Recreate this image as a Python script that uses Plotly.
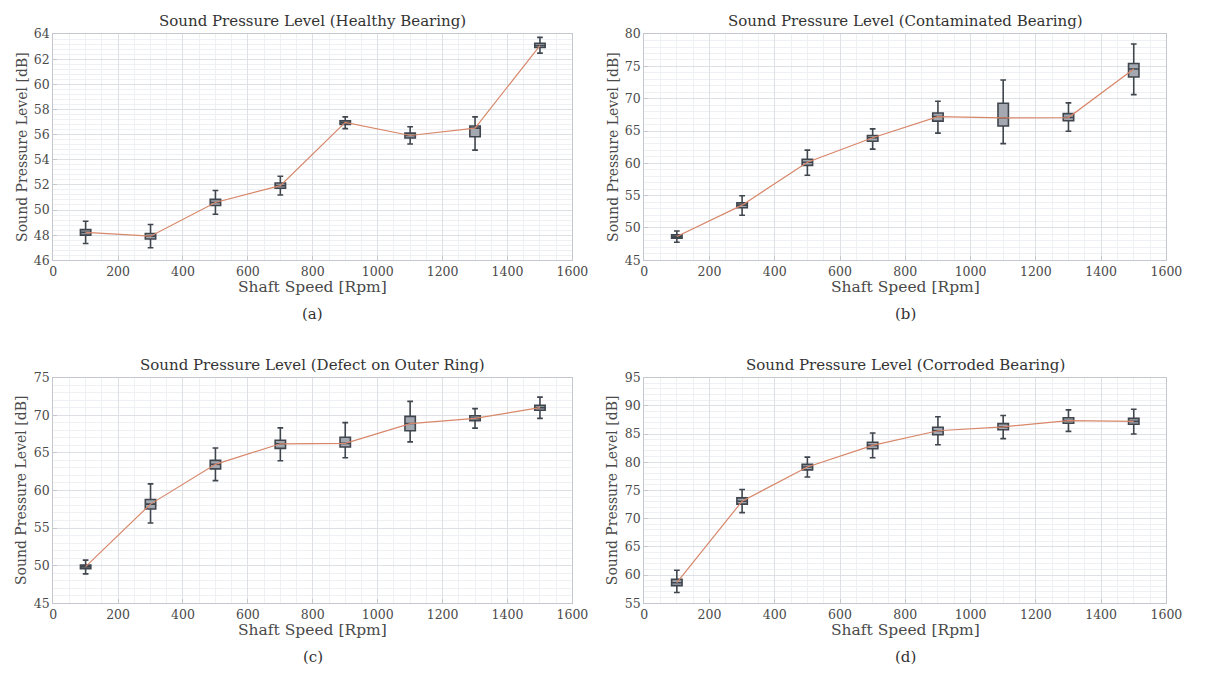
import plotly.graph_objects as go

# Shaft speeds at which the sound pressure was measured [rpm]
speeds = [100, 300, 500, 700, 900, 1100, 1300, 1500]

# Box statistics per condition [dB]: lower whisker, Q1, median, Q3, upper whisker
healthy_lo = [47.33, 47.00, 49.66, 51.19, 56.48, 55.26, 54.77, 62.49]
healthy_q1 = [48.00, 47.69, 50.36, 51.73, 56.82, 55.73, 55.83, 62.93]
healthy_med = [48.22, 47.92, 50.60, 51.94, 56.97, 55.93, 56.52, 63.09]
healthy_q3 = [48.44, 48.13, 50.85, 52.15, 57.10, 56.12, 56.69, 63.27]
healthy_hi = [49.11, 48.85, 51.55, 52.69, 57.41, 56.63, 57.41, 63.74]

contam_lo = [47.78, 51.96, 58.16, 62.20, 64.67, 63.06, 64.97, 70.64]
contam_q1 = [48.43, 53.12, 59.68, 63.41, 66.54, 65.78, 66.59, 73.37]
contam_med = [48.68, 53.53, 60.18, 63.96, 67.24, 67.04, 67.09, 74.59]
contam_q3 = [48.94, 53.88, 60.64, 64.32, 67.80, 69.31, 67.70, 75.45]
contam_hi = [49.54, 54.99, 62.05, 65.33, 69.61, 72.89, 69.36, 78.48]

outer_lo = [48.90, 55.67, 61.30, 63.95, 64.34, 66.46, 68.28, 69.58]
outer_q1 = [49.60, 57.53, 62.86, 65.59, 65.77, 67.93, 69.28, 70.67]
outer_med = [49.86, 58.18, 63.47, 66.20, 66.25, 68.89, 69.58, 71.01]
outer_q3 = [50.08, 58.79, 63.99, 66.68, 67.07, 69.84, 69.93, 71.32]
outer_hi = [50.73, 60.87, 65.64, 68.32, 69.02, 71.84, 70.88, 72.40]

corr_lo = [56.91, 71.07, 77.37, 80.78, 83.09, 84.19, 85.46, 85.00]
corr_q1 = [58.12, 72.57, 78.64, 82.40, 84.88, 85.75, 86.91, 86.73]
corr_med = [58.64, 73.09, 79.16, 82.98, 85.58, 86.27, 87.37, 87.25]
corr_q3 = [59.22, 73.67, 79.62, 83.55, 86.21, 86.85, 87.89, 87.77]
corr_hi = [60.84, 75.17, 80.90, 85.17, 88.06, 88.29, 89.28, 89.39]

titles = [
    "Sound Pressure Level (Healthy Bearing)",
    "Sound Pressure Level (Contaminated Bearing)",
    "Sound Pressure Level (Defect on Outer Ring)",
    "Sound Pressure Level (Corroded Bearing)",
]
sublabels = ["(a)", "(b)", "(c)", "(d)"]
y_ranges = [(46, 64), (45, 80), (45, 75), (55, 95)]
y_steps = [2, 5, 5, 5]

panels = [
    (healthy_lo, healthy_q1, healthy_med, healthy_q3, healthy_hi),
    (contam_lo, contam_q1, contam_med, contam_q3, contam_hi),
    (outer_lo, outer_q1, outer_med, outer_q3, outer_hi),
    (corr_lo, corr_q1, corr_med, corr_q3, corr_hi),
]

W, H = 1205, 677
# Pixel frames of the four axes: (left, right, top, bottom)
frames = [
    (50, 578, 26.7, 258),
    (651, 1182, 26.7, 258),
    (50, 578, 378, 608.7),
    (651, 1182, 378, 608.7),
]

FONT = "DejaVu Serif, Liberation Serif, serif"
TEXT = "#4a4a4a"
DARK = "#333333"
GRID = "#dde1e6"
MINOR = "#eef0f3"
FRAME = "#c4c8ce"
BOX_FILL = "#a4a8b0"
BOX_EDGE = "#40464e"
TREND = "#d8876a"

fig = go.Figure()
layout = dict(
    width=W, height=H,
    margin=dict(l=0, r=0, t=0, b=0),
    paper_bgcolor="white", plot_bgcolor="white",
    showlegend=False,
    font=dict(family=FONT, color=TEXT),
)
annotations = []


def label(text, px, py, size, color=TEXT, angle=0):
    """Centered text placed at pixel position (px, py) from the top-left."""
    annotations.append(dict(
        text=text, x=px / W, y=1 - py / H,
        xref="paper", yref="paper", xanchor="center", yanchor="middle",
        showarrow=False, textangle=angle,
        font=dict(family=FONT, size=size, color=color),
    ))


for i, (stats, frame) in enumerate(zip(panels, frames)):
    lo, q1, med, q3, hi = stats
    left, right, top, bottom = frame
    n = "" if i == 0 else str(i + 1)
    xa, ya = "x" + n, "y" + n

    fig.add_trace(go.Box(
        x=speeds, lowerfence=lo, q1=q1, median=med, q3=q3, upperfence=hi,
        width=32, whiskerwidth=0.55,
        fillcolor=BOX_FILL, line=dict(color=BOX_EDGE, width=1.6),
        xaxis=xa, yaxis=ya, hoverinfo="skip",
    ))
    fig.add_trace(go.Scatter(
        x=speeds, y=med, mode="lines",
        line=dict(color=TREND, width=1.2),
        xaxis=xa, yaxis=ya, hoverinfo="skip",
    ))

    ymin, ymax = y_ranges[i]
    step = y_steps[i]
    axis_common = dict(
        showgrid=True, gridcolor=GRID, gridwidth=1,
        showline=True, linecolor=FRAME, linewidth=1, mirror=True,
        ticks="inside", ticklen=4, tickcolor=FRAME,
        tickfont=dict(family=FONT, size=12.5, color=TEXT),
        zeroline=False,
    )
    layout["xaxis" + n] = dict(
        axis_common,
        domain=[left / W, right / W],
        range=[0, 1600], tick0=0, dtick=200,
        minor=dict(dtick=50, showgrid=True, gridcolor=MINOR, gridwidth=1),
        anchor=ya,
    )
    layout["yaxis" + n] = dict(
        axis_common,
        domain=[1 - bottom / H, 1 - top / H],
        range=[ymin, ymax], tick0=ymin, dtick=step,
        minor=dict(dtick=step / 5, showgrid=True, gridcolor=MINOR, gridwidth=1),
        anchor=xa,
    )

    cx = (left + right) / 2
    label(titles[i], cx, top - 13, 15, DARK)
    label("Shaft Speed [Rpm]", cx, bottom + 27, 15.5)
    label("Sound Pressure Level [dB]", left - 32, (top + bottom) / 2, 14, angle=-90)
    label(sublabels[i], cx, bottom + 55, 15, DARK)

layout["annotations"] = annotations
fig.update_layout(**layout)
fig.write_html("out.html")
